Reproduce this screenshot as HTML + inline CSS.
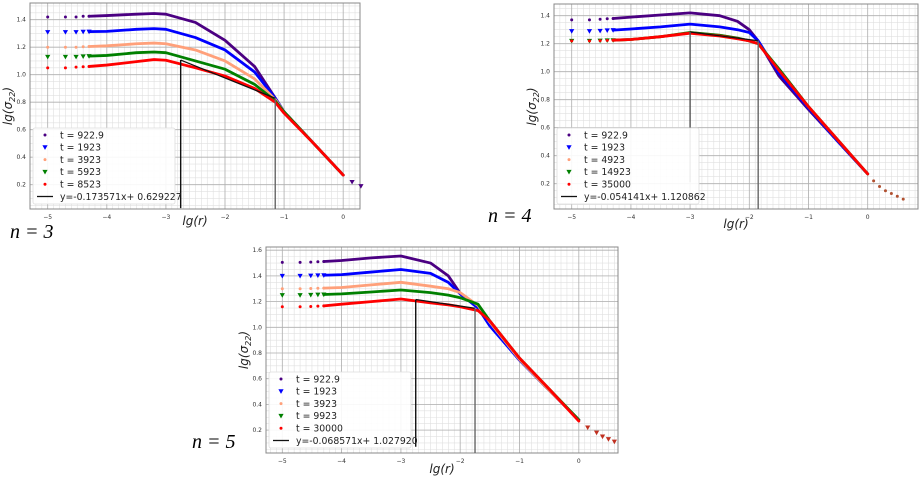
<!DOCTYPE html>
<html><head><meta charset="utf-8">
<style>
html,body{margin:0;padding:0;background:#fff;}
svg{display:block;font-family:"DejaVu Sans","Liberation Sans",sans-serif;}
.lab{font-family:"Liberation Serif",serif;font-style:italic;font-size:20px;}
</style></head>
<body>
<svg id="fig" width="924" height="482" viewBox="0 0 924 482">
<text class="lab" x="10" y="238">n = 3</text>
<text class="lab" x="488" y="222">n = 4</text>
<text class="lab" x="192" y="448">n = 5</text>
</svg>
<script>
// ---- Panel n=3 data ----
const p1X = [-5,-4.7,-4.52,-4.4,-4.3,-4,-3.5,-3.2,-3,-2.5,-2,-1.5,-1.15,-1,-0.5,0];
const p1Purple = [1.42,1.42,1.42,1.425,1.425,1.43,1.44,1.445,1.44,1.38,1.25,1.06,0.83,0.73,0.5,0.27];
const p1Blue   = [1.31,1.31,1.31,1.312,1.313,1.315,1.33,1.335,1.33,1.27,1.18,1.02,0.83,0.73,0.5,0.27];
const p1Orange = [1.2,1.2,1.2,1.203,1.205,1.21,1.225,1.23,1.225,1.18,1.1,0.97,0.82,0.73,0.5,0.27];
const p1Green  = [1.13,1.13,1.13,1.133,1.135,1.14,1.16,1.165,1.16,1.1,1.04,0.93,0.81,0.73,0.5,0.27];
const p1Red    = [1.05,1.05,1.055,1.058,1.06,1.07,1.095,1.11,1.105,1.05,0.99,0.9,0.8,0.72,0.5,0.27];
const p1TailX = [0.15,0.3];
const p1TailY = [0.22,0.19];
const p1Labels = ["t = 922.9","t = 1923","t = 3923","t = 5923","t = 8523"];
const p1Fit = [-0.173571,0.629227];
const p1FitRange = [-2.75,-1.15];

// ---- Panel n=4 data ----
const p2X = [-5,-4.7,-4.52,-4.4,-4.3,-4,-3.5,-3,-2.5,-2.2,-2,-1.85,-1.5,-1,-0.5,0];
const p2Purple = [1.37,1.37,1.375,1.378,1.38,1.39,1.405,1.42,1.40,1.36,1.30,1.22,0.97,0.73,0.5,0.27];
const p2Blue   = [1.29,1.29,1.292,1.295,1.297,1.305,1.32,1.34,1.32,1.30,1.28,1.22,0.99,0.74,0.5,0.27];
const p2Orange = [1.22,1.22,1.222,1.224,1.225,1.23,1.25,1.28,1.26,1.24,1.22,1.20,1.02,0.75,0.51,0.27];
const p2Green  = [1.22,1.22,1.222,1.224,1.225,1.23,1.25,1.28,1.26,1.24,1.22,1.20,1.02,0.75,0.51,0.27];
const p2Red    = [1.22,1.22,1.222,1.224,1.225,1.23,1.25,1.275,1.255,1.235,1.22,1.20,1.01,0.75,0.51,0.27];
const p2TailX = [0.1,0.2,0.3,0.4,0.5,0.6];
const p2TailY = [0.22,0.18,0.15,0.13,0.11,0.09];
const p2Labels = ["t = 922.9","t = 1923","t = 4923","t = 14923","t = 35000"];
const p2Fit = [-0.054141,1.120862];
const p2FitRange = [-3,-1.85];

// ---- Panel n=5 data ----
const p3X = [-5,-4.7,-4.52,-4.4,-4.3,-4,-3.5,-3,-2.5,-2.2,-2,-1.7,-1.5,-1,-0.5,0];
const p3Purple = [1.505,1.505,1.507,1.51,1.512,1.52,1.54,1.555,1.50,1.40,1.265,1.16,1.02,0.745,0.51,0.28];
const p3Blue   = [1.40,1.40,1.402,1.404,1.405,1.41,1.43,1.45,1.42,1.35,1.26,1.15,1.01,0.745,0.51,0.28];
const p3Orange = [1.30,1.30,1.302,1.304,1.305,1.31,1.33,1.35,1.32,1.30,1.27,1.17,1.04,0.75,0.51,0.28];
const p3Green  = [1.25,1.25,1.252,1.254,1.255,1.26,1.275,1.29,1.27,1.25,1.23,1.18,1.05,0.76,0.52,0.28];
const p3Red    = [1.16,1.16,1.162,1.165,1.167,1.18,1.20,1.22,1.19,1.175,1.16,1.13,1.05,0.76,0.52,0.27];
const p3TailX = [0.15,0.3,0.4,0.5,0.6];
const p3TailY = [0.22,0.18,0.15,0.13,0.11];
const p3Labels = ["t = 922.9","t = 1923","t = 3923","t = 9923","t = 30000"];
const p3Fit = [-0.068571,1.02792];
const p3FitRange = [-2.75,-1.75];

const NS = "http://www.w3.org/2000/svg";
const svg = document.getElementById('fig');
const colors = ["#4b0082","#0000ff","#ffa07a","#008000","#ff0000"];
const shapes = ["dot","tri","dot","tri","dot"];

function mk(tag, attrs, parent){
  const e = document.createElementNS(NS, tag);
  for (const k in attrs) e.setAttribute(k, attrs[k]);
  (parent||svg).appendChild(e);
  return e;
}
function marker(g, shape, color, px, py){
  let m;
  if (shape === "tri") {
    m = mk('polygon',{points:`${px-2.6},${py-2} ${px+2.6},${py-2} ${px},${py+2.6}`,fill:color},g);
    
  } else {
    m = mk('circle',{cx:px,cy:py,r:1.5,fill:color},g);
    
  }
  
}

function panel(cfg){
  const {id,L,R,T,B,xTicks,yTicks} = cfg;
  const X = v => cfg.xa + (v - (-5)) * cfg.kx;
  const Y = v => cfg.ya - (v - cfg.yref) * cfg.ky;
  const g = mk('g',{});
  
  
  mk('rect',{x:L,y:T,width:R-L,height:B-T,fill:'#fff'},g);
  for (let v = -5.5; v <= 1.0; v += 0.1) {
    const px = X(v); if (px <= L || px >= R) continue;
    mk('line',{x1:px,x2:px,y1:T,y2:B,stroke:'#e0e0e0','stroke-width':0.6},g);
  }
  for (let v = 0; v <= 1.8; v += 0.05) {
    const py = Y(v); if (py <= T || py >= B) continue;
    mk('line',{x1:L,x2:R,y1:py,y2:py,stroke:'#e0e0e0','stroke-width':0.6},g);
  }
  xTicks.forEach(v=>{
    const px = X(v);
    const gl = mk('line',{x1:px,x2:px,y1:T,y2:B,stroke:'#b0b0b0','stroke-width':0.8},g);
    
    const t = mk('text',{x:px,y:B+10,'font-size':6,'text-anchor':'middle',fill:'#333'},g);
    t.textContent = (v<0?'\u2212':'') + Math.abs(v);
    
    
  });
  yTicks.forEach(v=>{
    const py = Y(v);
    const gl = mk('line',{x1:L,x2:R,y1:py,y2:py,stroke:'#b0b0b0','stroke-width':0.8},g);
    
    const t = mk('text',{x:L-4,y:py+2,'font-size':6,'text-anchor':'end',fill:'#333'},g);
    t.textContent = v.toFixed(1);
    
    
  });
  mk('rect',{x:L,y:T,width:R-L,height:B-T,fill:'none',stroke:'#888','stroke-width':1},g);
  const xt = mk('text',{x:(L+R)/2,y:B+cfg.xtOff,'font-size':12,'font-style':'italic','text-anchor':'middle',fill:'#222'},g);
  xt.textContent = 'lg(r)';
  
  
  const yt = mk('text',{x:0,y:0,'font-size':12,'font-style':'italic','text-anchor':'middle',fill:'#222',transform:`translate(${L-18},${(T+B)/2}) rotate(-90)`},g);
  yt.innerHTML = 'lg(σ<tspan font-size="8" dy="3">22</tspan><tspan dy="-3">)</tspan>';
  
  

  cfg.series.forEach((ys,i)=>{
    const sg = mk('g',{},g);
    
    
    const pts = [];
    cfg.xs.forEach((xv,j)=>{ if (xv >= -4.3) pts.push(X(xv)+','+Y(ys[j])); });
    const pl = mk('polyline',{points:pts.join(' '),fill:'none',stroke:colors[i],'stroke-width':2.8,'stroke-linejoin':'round','stroke-linecap':'round'},sg);
    
    
    cfg.xs.forEach((xv,j)=>{ if (xv < -4.25) marker(sg, shapes[i], colors[i], X(xv), Y(ys[j])); });
  });
  cfg.tailX.forEach((xv,j)=>{ marker(g, cfg.tailShape, cfg.tailColor, X(xv), Y(cfg.tailY[j])); });

  const [a,b] = cfg.fit, [fa,fb] = cfg.fitRange;
  const fl = mk('line',{x1:X(fa),y1:Y(a*fa+b),x2:X(fb),y2:Y(a*fb+b),stroke:'#111','stroke-width':1.3},g);
  
  
  const v1 = mk('line',{x1:X(fa),x2:X(fa),y1:Y(cfg.v1Bottom),y2:Y(a*fa+b),stroke:cfg.v1Color,'stroke-width':1.4},g);
  
  
  const v2 = mk('line',{x1:X(fb),x2:X(fb),y1:B,y2:Y(a*fb+b),stroke:'#666','stroke-width':1.4},g);
  
  

  const lg = mk('g',{},g);
  
  
  const [lx,ly] = cfg.legend;
  mk('rect',{x:lx,y:ly,width:142,height:76,fill:'#fff','fill-opacity':0.9,stroke:'#ddd','stroke-width':0.8,rx:2},lg);
  cfg.labels.forEach((lab,i)=>{
    const ry = ly + 7 + i*12.3;
    marker(lg, shapes[i], colors[i], lx+12, ry);
    const t = mk('text',{x:lx+27,y:ry+3.3,'font-size':9.3,fill:'#222'},lg);
    t.textContent = lab;
    
    
  });
  const ry = ly + 7 + 5*12.3;
  mk('line',{x1:lx+4,x2:lx+20,y1:ry,y2:ry,stroke:'#111','stroke-width':1.3},lg);
  const ft = mk('text',{x:lx+27,y:ry+3.3,'font-size':9.3,fill:'#222'},lg);
  ft.textContent = `y=${a.toFixed(6)}x+ ${b.toFixed(6)}`;
  
  
}

panel({id:'panel-n3',L:30,R:360,T:3,B:209,xa:47.7,kx:59.1,ya:74.7,yref:1.0,ky:137.5,xtOff:16,
  xTicks:[-5,-4,-3,-2,-1,0],yTicks:[0.2,0.4,0.6,0.8,1.0,1.2,1.4],
  xs:p1X,series:[p1Purple,p1Blue,p1Orange,p1Green,p1Red],labels:p1Labels,
  tailX:p1TailX,tailY:p1TailY,tailShape:'tri',tailColor:'#4b0082',
  fit:p1Fit,fitRange:p1FitRange,v1Bottom:0.03,v1Color:'#111',legend:[33,128]});
panel({id:'panel-n4',L:554,R:918,T:4,B:209,xa:571.7,kx:59.2,ya:71.7,yref:1.0,ky:140,xtOff:19,
  xTicks:[-5,-4,-3,-2,-1,0],yTicks:[0.2,0.4,0.6,0.8,1.0,1.2,1.4],
  xs:p2X,series:[p2Purple,p2Blue,p2Orange,p2Green,p2Red],labels:p2Labels,
  tailX:p2TailX,tailY:p2TailY,tailShape:'dot',tailColor:'#b05030',
  fit:p2Fit,fitRange:p2FitRange,v1Bottom:0.21,v1Color:'#555',legend:[557,128]});
panel({id:'panel-n5',L:266,R:618,T:247,B:453,xa:282.3,kx:59.3,ya:327.3,yref:1.0,ky:128.5,xtOff:20,
  xTicks:[-5,-4,-3,-2,-1,0],yTicks:[0.2,0.4,0.6,0.8,1.0,1.2,1.4,1.6],
  xs:p3X,series:[p3Purple,p3Blue,p3Orange,p3Green,p3Red],labels:p3Labels,
  tailX:p3TailX,tailY:p3TailY,tailShape:'tri',tailColor:'#c03020',
  fit:p3Fit,fitRange:p3FitRange,v1Bottom:0.07,v1Color:'#111',legend:[269,372]});
</script>
</body></html>
